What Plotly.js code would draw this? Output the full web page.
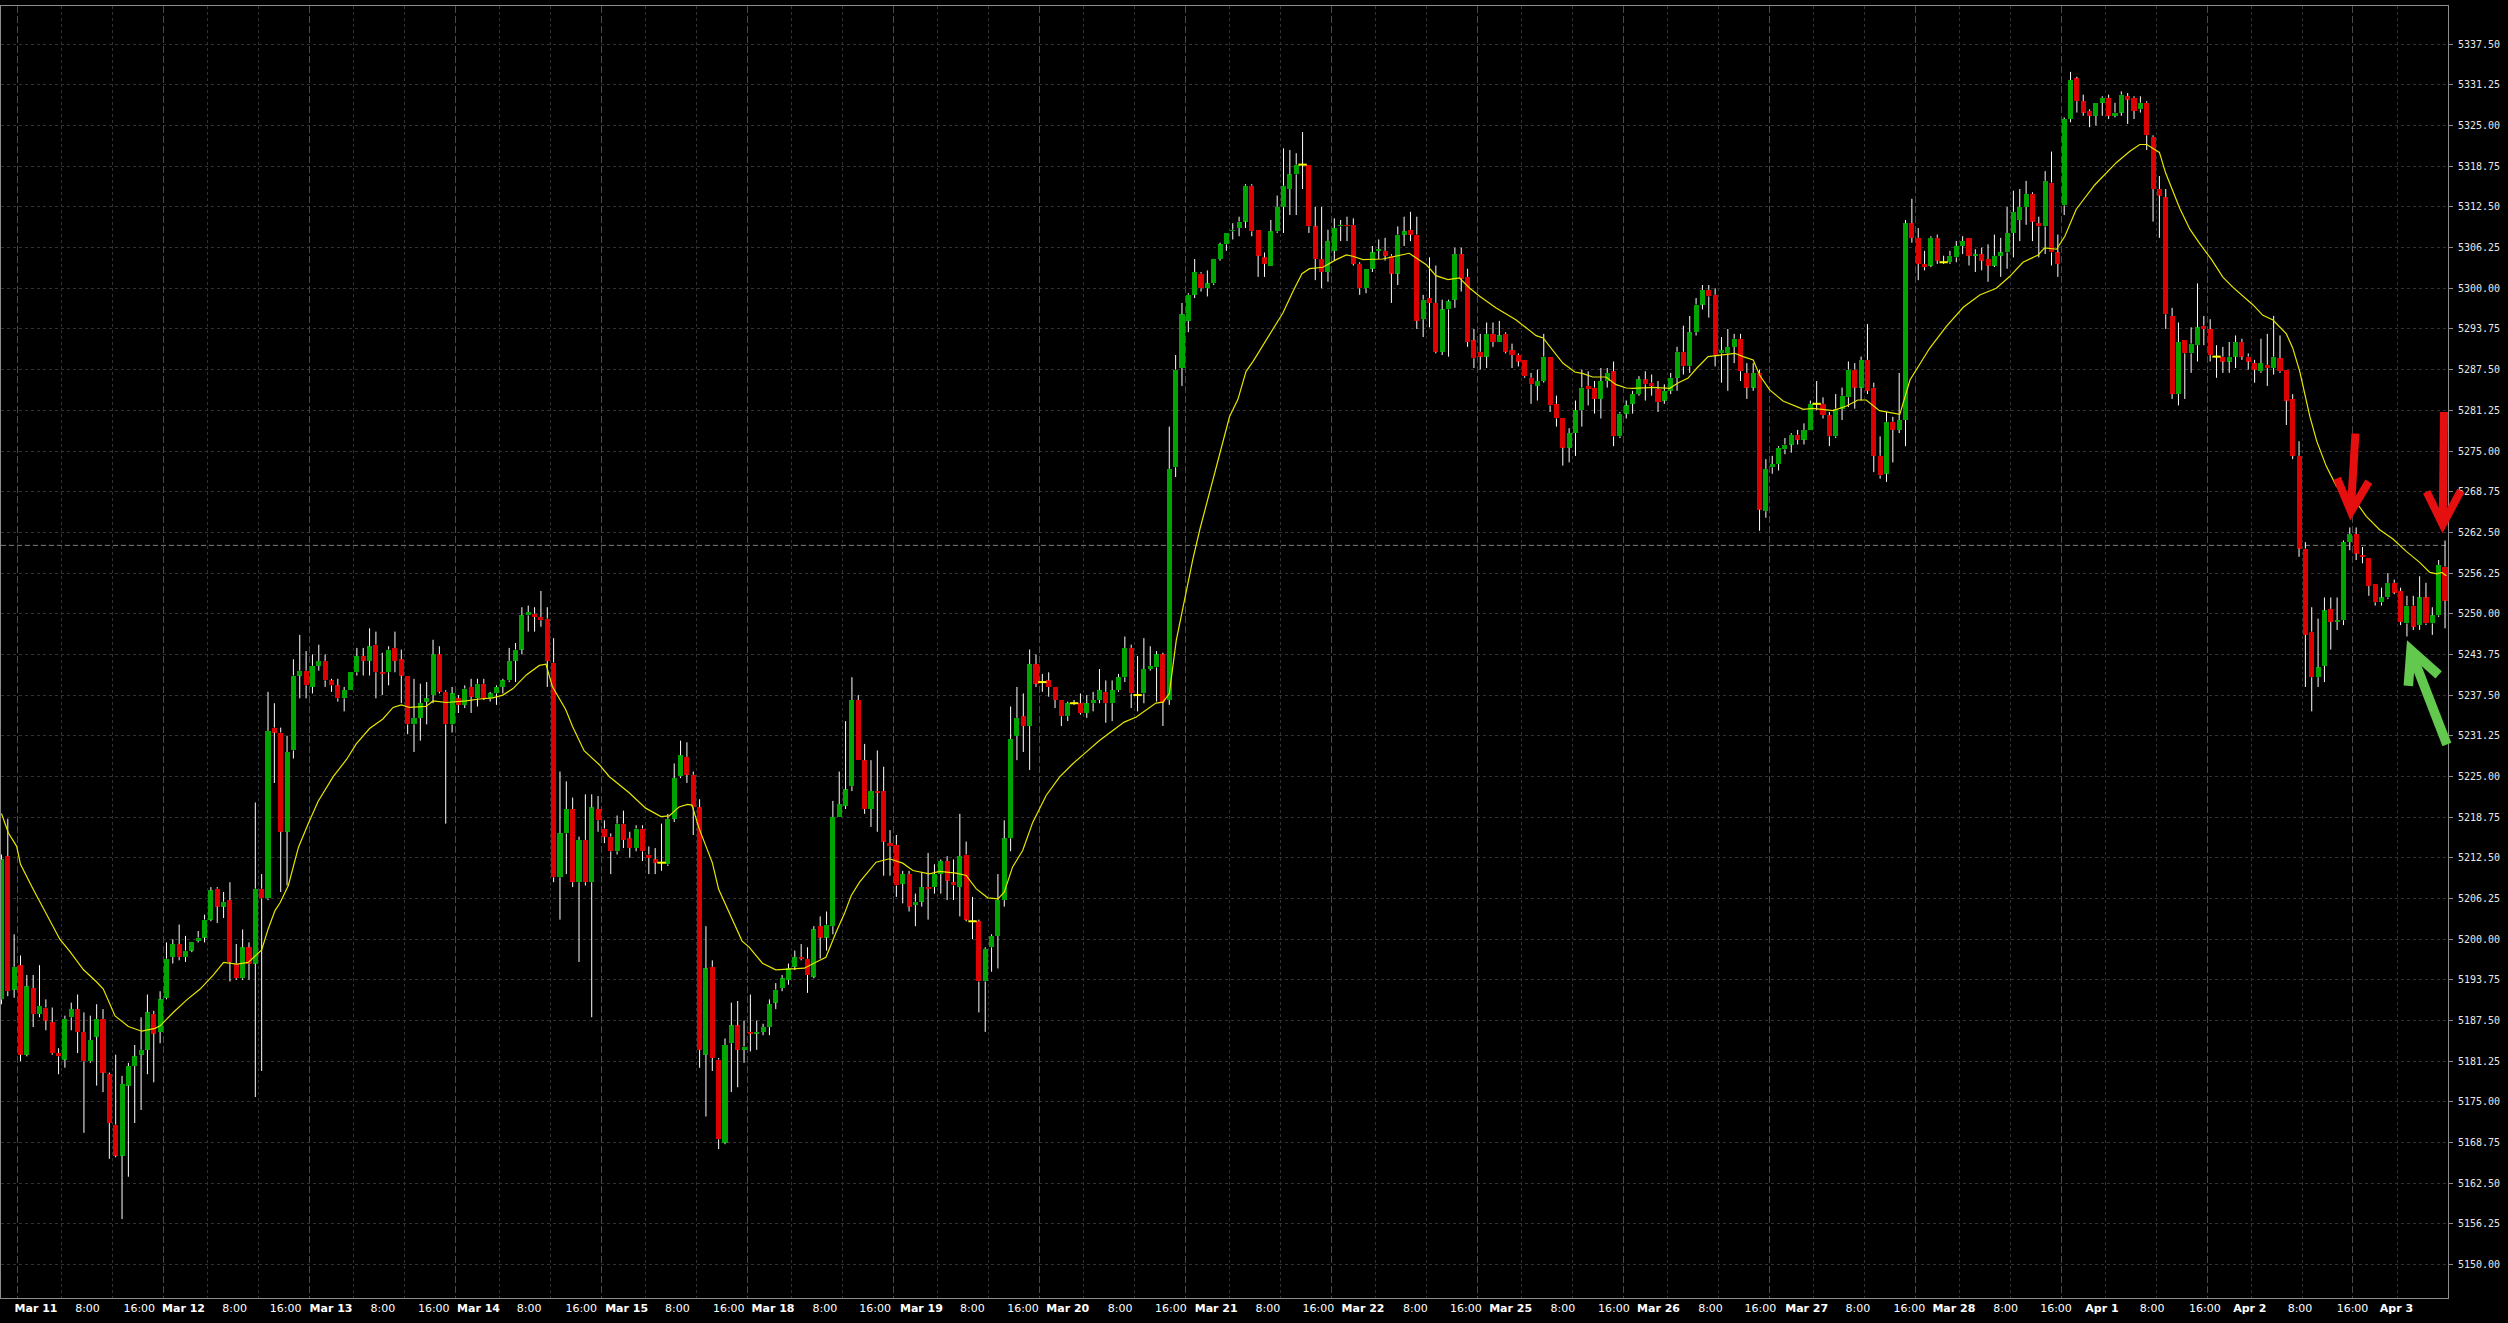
<!DOCTYPE html>
<html>
<head>
<meta charset="utf-8">
<script src="https://cdn.plot.ly/plotly-3.0.1.min.js"></script>
<style>
html,body{margin:0;padding:0;background:#000;overflow:hidden;}
#chart{width:2508px;height:1323px;}
</style>
</head>
<body>
<div id="chart"></div>
<script>
// ---- hourly OHLC bars (bar index 0..385) ----
const O = [
5190.75,5212.75,5192.25,5196,5182.25,5192.5,5188.5,5189.5,5187.25,5182.5,
5181.5,5188,5189.25,5185.75,5181.25,5185,5187.75,5179.25,5171.5,5166.75,
5177.5,5180.5,5182.25,5183,5188.5,5185.75,5191,5197.25,5199.25,5197.25,
5198.25,5199.75,5200.25,5203,5207.75,5205,5206,5196.25,5194,5198.75,
5196.25,5207.75,5206.25,5232.5,5231.75,5216.5,5229,5240.5,5241.25,5238.75,
5242,5242.75,5239.75,5239,5237,5238.25,5241,5243.5,5242.75,5245.25,
5241,5241,5244.75,5243,5240.5,5233,5234,5236.5,5237.5,5243.75,
5238,5233,5237,5236,5238.75,5237,5239.25,5237,5237.75,5238.75,
5239.75,5242.75,5244.5,5249.75,5250,5249.5,5249.25,5242.5,5209.5,5216.25,
5220,5208.75,5215.25,5208.75,5220,5217,5215.75,5213.5,5217.75,5215.5,
5214,5217,5213,5212.25,5211.75,5211.5,5218.5,5225,5228,5225.25,
5220.25,5182.25,5195.75,5181.5,5168.75,5184,5186.75,5183,5185.75,5185.5,
5185.75,5186.5,5190.25,5192.5,5193.75,5195.75,5197.25,5197,5194.25,5202,
5200.25,5202,5218.75,5220.5,5223.5,5236.75,5227.5,5220,5222.75,5222.75,
5214.75,5214.5,5208.5,5210,5205.25,5205.75,5208,5208,5210,5212,
5208.75,5208,5213,5202.75,5202.75,5193.5,5198.75,5200.5,5206,5215.5,
5231.25,5234.25,5232.75,5242.25,5239.5,5239.75,5238.75,5236.75,5234.25,5236.25,
5236.25,5234.75,5236.25,5236.75,5238,5236.25,5238.25,5240.25,5244.75,5237.5,
5237.75,5241.5,5241.75,5243.75,5236.75,5272.5,5287.75,5295,5299,5302.25,
5300,5300.75,5304.5,5306.75,5308.75,5309.25,5310.25,5315.75,5309,5304.75,
5303.5,5308.75,5312.5,5315.25,5317.5,5319,5319,5309.5,5304.5,5302.5,
5305.75,5309.5,5309.75,5309.75,5303.75,5300,5303,5305.75,5305.75,5305,
5302.25,5308.25,5309,5308.25,5295.25,5298.5,5297.75,5290.25,5296.75,5298.25,
5305.25,5301.75,5292,5290.25,5289.5,5293,5291.75,5293,5290.5,5289.75,
5289,5286.25,5285,5285.75,5289.5,5282.25,5280,5275.5,5277.75,5281.25,
5285,5284.75,5283,5285.75,5287.25,5277.25,5280.75,5282.25,5283.75,5286,
5285.5,5284.5,5282.75,5284.25,5286.25,5290.25,5288,5293.25,5297.5,5299.75,
5299,5290,5290,5291,5292.25,5287,5284.75,5287,5265.75,5272.5,
5273,5275.25,5276,5277.5,5276.75,5278.25,5282.25,5282.25,5280.5,5277.25,
5281.5,5283.25,5287.5,5284.75,5289,5284.75,5274.25,5271.5,5279.5,5278.25,
5279.75,5310,5307.75,5303.75,5303.5,5307.75,5304,5304,5304.75,5306.5,
5307.75,5305,5305.25,5304.5,5303.5,5305,5305.5,5308.5,5310.5,5312.5,
5314.5,5310,5309.5,5316.25,5305.5,5312.75,5326,5332.25,5328.75,5327.25,
5326.5,5328.5,5329.25,5326.5,5327,5329.5,5329.25,5327.5,5328.5,5323.25,
5315.25,5314,5295.75,5283.75,5292,5290,5291.25,5294.25,5293.75,5289.5,
5289.5,5288.75,5289.5,5291.75,5289.5,5288.5,5287.25,5288.25,5287.75,5289.25,
5287.5,5283,5274.25,5260,5247.25,5240.25,5242,5250.75,5248.75,5249,
5261,5262.25,5259,5258.5,5254.5,5251.75,5252.5,5254.75,5253.5,5248.5,
5251.25,5248.25,5252.5,5248.5,5249.75,5257.25
];
const H = [
5213,5218.5,5200.75,5197.5,5194.5,5194.5,5196,5190.75,5189.5,5183.25,
5188.25,5190.25,5191.5,5188.75,5188.25,5190,5189.25,5179.5,5182.25,5179,
5181,5183.75,5188,5191.5,5189,5192,5199.5,5200,5202.25,5200.5,
5199.5,5201.25,5203.75,5208,5208,5207.25,5208.75,5199.25,5201.5,5199.5,
5221,5210,5238,5236.25,5232.5,5231.25,5243,5246.75,5244.25,5243.75,
5245.25,5243.75,5240,5240,5238.75,5241,5244.75,5244.75,5247.75,5247.25,
5244,5245,5247.25,5244.5,5240.5,5240,5239.25,5239.5,5246,5245,
5238.25,5238.75,5237.5,5239,5240,5240,5240,5238,5239,5240,
5244.75,5245.5,5251,5251.25,5251,5253.5,5251,5246.25,5225.75,5224.25,
5221.75,5215.75,5222.25,5222.25,5222,5218.25,5216.25,5219,5219.75,5216.5,
5217.5,5217.5,5214.25,5214,5217.75,5219.25,5227,5230.5,5230.25,5225.75,
5221.5,5202,5196.75,5181.75,5184.75,5190.25,5190.5,5187.5,5191.5,5187.5,
5187,5190.75,5193.25,5194.5,5196.25,5198.25,5199.25,5198.75,5202,5203.5,
5204.25,5221.25,5225.75,5233.5,5240.25,5237.5,5230,5227.5,5229,5226.5,
5216.75,5216,5210.5,5210.5,5207,5210.25,5213.25,5211.5,5212.25,5212.75,
5212.25,5219.25,5215,5206.5,5203,5198.75,5200.75,5210,5218.25,5235.75,
5238.75,5237.75,5244.5,5243.75,5240.75,5241,5238.75,5236.75,5236.5,5236.75,
5237.75,5237.5,5238,5241.5,5239.75,5239.75,5240.75,5246.5,5245.25,5243.5,
5246.25,5245,5244.25,5244,5278.75,5289.75,5297.75,5299.25,5304.5,5302.5,
5302.75,5304.5,5307,5308.5,5310,5311,5316,5316,5309,5305.5,
5310.5,5314.25,5321.5,5321.25,5320.75,5324,5319,5312.5,5312.5,5309,
5310.75,5310.5,5311,5310.75,5304,5303,5306.5,5307.5,5307.75,5305.25,
5309.5,5311,5311.75,5311,5299,5304.75,5303.5,5298.25,5298.25,5306.25,
5306.25,5303,5293.75,5293,5294.75,5294.75,5295,5293.25,5291.5,5290,
5289,5287,5287.5,5293,5289.5,5283.5,5280,5278.5,5282.75,5287.5,
5287.25,5285.75,5287.75,5287.75,5288.75,5281,5282.75,5284.25,5286.5,5287.25,
5286.75,5285.75,5285.25,5287,5291,5294.25,5295.75,5298.5,5300.5,5300.5,
5300,5292.5,5293.75,5293,5293,5288.5,5288.5,5287.5,5273.75,5274.25,
5275.75,5277,5277.75,5278.25,5279.25,5282.75,5285.75,5283.25,5281,5283.75,
5284.75,5288.75,5288.5,5289.5,5294.5,5285.5,5277.25,5281,5280.25,5287,
5310.5,5313.75,5309.25,5305.75,5308,5308.25,5305,5305.75,5307.25,5308,
5307.75,5306,5306.25,5306.75,5308.25,5307.75,5312.5,5315,5315.25,5316.5,
5314.75,5311,5318,5321,5308.25,5326.25,5333.25,5332.5,5329.75,5327.5,
5328.5,5329.5,5329.75,5328.5,5330.25,5330,5329.5,5329.5,5328.75,5323.5,
5317.25,5315.25,5297,5294.75,5292,5294,5300.75,5295.75,5295.25,5291.25,
5291,5291.75,5292.75,5292.25,5290,5289,5292.25,5293,5295.75,5292.75,
5287.5,5283.75,5276.5,5261,5251,5249.25,5252.5,5252.5,5252.5,5261.25,
5263.25,5263.25,5260.25,5258.5,5254.5,5254,5256.25,5255.25,5254,5252.75,
5252.75,5255.75,5254.75,5251,5258.25,5261.25
];
const L = [
5190,5191.25,5191,5181.25,5182,5186.5,5188,5186,5182.25,5179.25,
5180.25,5186,5182.5,5170.25,5181,5177.5,5176.5,5166.25,5166.5,5157,
5163.5,5171.75,5173.75,5179.25,5178,5184,5190.75,5196.25,5196.75,5196.5,
5198,5199.5,5199.5,5202.75,5202.5,5203.25,5193.5,5193.75,5193.75,5193.75,
5175.75,5179.75,5206,5224,5207.25,5208.25,5227.75,5237,5237,5237.75,
5241.25,5238.75,5238,5236.5,5235,5238.25,5240.5,5240.5,5240.5,5237,
5237.5,5239,5241,5236.25,5231.5,5228.75,5230.5,5233,5236.25,5237.75,
5217.75,5231.75,5234.75,5235.5,5234.75,5235.75,5236.75,5236.5,5236,5237.75,
5239.5,5239.5,5243.75,5247.25,5247.25,5248,5238.75,5208.75,5203,5210,
5208,5196.5,5208.25,5188,5216.5,5214.75,5210,5213,5214,5212.5,
5213.5,5212,5210,5210,5210.5,5211.25,5218,5224.75,5224,5216,
5180.25,5172.75,5179.75,5167.75,5168.5,5176.5,5177.25,5181,5182.75,5183,
5185.25,5185.25,5189.25,5192,5193,5195.25,5196.75,5191.75,5194,5197,
5198.25,5200.75,5218.75,5220,5222.75,5227.5,5219.25,5217.25,5216.5,5209.75,
5209.75,5206.5,5205.5,5204.25,5202,5205,5203,5207,5207,5206,
5206,5203.5,5202.75,5200,5188.75,5185.75,5195,5195.5,5205,5213.5,
5227.5,5228.75,5226,5238.75,5238,5237.25,5235.5,5232.75,5233.5,5236,
5234.5,5234,5235,5236.25,5233.25,5233.5,5238,5239.5,5235.5,5235,
5236.25,5241.25,5236.5,5232.75,5236,5271,5285,5293.25,5298.5,5299.5,
5298.75,5300.5,5304.25,5305.75,5307.5,5308,5309.25,5308,5301.75,5301.75,
5303.5,5308.5,5308.5,5311.25,5311.25,5315.25,5308.5,5301.25,5300,5301,
5304.25,5307.25,5307.25,5303.5,5299,5299.25,5302.5,5304.5,5304.25,5297.75,
5300.5,5306.5,5307.25,5293.75,5292.5,5294,5290,5289.75,5289.5,5297,
5299.5,5291,5287.75,5287.5,5287.75,5291,5291.75,5290,5287.75,5288,
5286.25,5282.25,5282.75,5285.5,5281,5278.75,5272.75,5273.25,5274.25,5278.75,
5282,5280.75,5280,5284.75,5275.75,5277,5280,5280.75,5283.5,5282.75,
5283.5,5281,5282.25,5283.75,5284.25,5286.75,5287,5292.75,5296.75,5295.5,
5288,5285.5,5284.25,5288.5,5285.75,5283,5284.25,5262.75,5264.75,5271.5,
5272,5274.5,5274.75,5276,5276,5278.25,5281.25,5280,5275.75,5277,
5279.75,5281.75,5281.5,5282.75,5283.75,5271.75,5270.75,5270.25,5273.25,5277.75,
5275.75,5307,5301.25,5302.75,5303.25,5303.75,5303.75,5303.75,5304,5305.25,
5303.5,5302.5,5302.75,5301,5303.25,5301.75,5303,5304.75,5307.25,5309.75,
5307.25,5304.75,5305.25,5303.5,5301.75,5311.25,5325.5,5327,5326.5,5324.75,
5325,5326.5,5326,5326.25,5326.5,5325.25,5326,5327,5321.25,5310.25,
5307.75,5293.75,5283,5282,5283,5287,5288.75,5291.25,5288.75,5286.25,
5287,5287,5287.75,5289,5287.5,5285.5,5287,5285,5286.75,5287,
5279,5273.75,5258.75,5238.75,5235,5238.75,5239.5,5244.5,5247.5,5248.25,
5259.75,5258.25,5257.75,5252.75,5251.25,5251.25,5252.25,5253,5248.25,5246.5,
5247.5,5247.5,5248.25,5246.75,5249.5,5247.75
];
const C = [
5212.25,5192,5195.75,5182.25,5192.75,5188.5,5189.75,5187.5,5182.5,5182,
5187.75,5189.25,5185.75,5181.25,5184.5,5187.75,5179.5,5171.75,5166.75,5177.75,
5180.5,5182,5183,5188.75,5185.5,5190.75,5197,5199.25,5197.25,5198.25,
5199.5,5200.25,5203,5207.5,5205,5205.75,5196.5,5194,5198.75,5196.25,
5207.75,5206.25,5232,5231.75,5216.5,5228.75,5240.5,5241.25,5239,5242,
5242.75,5239.75,5239,5237,5238.25,5241,5243.5,5242.75,5245,5241,
5240.75,5244.5,5242.75,5240.5,5233,5234,5236.25,5237,5243.75,5238,
5233,5237.75,5236,5238.5,5237.25,5239.25,5237,5237.75,5238.75,5239.75,
5242.75,5244.5,5249.75,5250.25,5249.5,5249,5242.75,5209.5,5216.25,5220,
5208.75,5215.25,5208.75,5220.25,5218.25,5215.75,5213.5,5217.75,5215.25,5214,
5217,5213.5,5212.5,5211.75,5211.75,5218.5,5224.75,5228.25,5225.25,5220.25,
5183,5195.5,5181.75,5169.25,5183.75,5186.75,5183,5183.5,5185.5,5185.75,
5186.5,5190,5192.25,5194,5195.5,5197.25,5197,5194.5,5201.5,5200.25,
5202.25,5218.75,5220.75,5223,5236.75,5227.5,5220,5222.75,5222.5,5215,
5214.25,5208.25,5210,5205,5205.75,5208,5207.75,5210,5212,5209,
5208.25,5212.75,5203,5202.75,5193.5,5198.5,5200.5,5206,5215.5,5230.75,
5234,5232.75,5242.25,5239.25,5239.5,5238.75,5236.75,5234.25,5236.25,5236.25,
5234.75,5236.25,5236.75,5238.25,5236.25,5238.25,5240.25,5244.75,5237.75,5237.5,
5241.5,5242,5243.75,5236.5,5272.25,5287.5,5296,5299,5302.5,5300,
5300.75,5304.5,5306.75,5308.5,5309,5310.25,5315.75,5308.75,5305,5303.75,
5308.75,5312.5,5315.75,5317.5,5319,5319,5309.5,5304.5,5302.5,5307.25,
5309.25,5309.75,5309.5,5303.75,5300,5303,5305.5,5306,5305,5302.25,
5308.25,5308.75,5308.25,5295,5298.25,5297.75,5290.25,5296.75,5298,5305.25,
5301.5,5291.75,5289.25,5289.5,5293,5291.75,5292.75,5290.25,5289.75,5288.75,
5286.5,5285.25,5285.75,5289.5,5282,5280,5275.5,5277.75,5281.25,5284.75,
5284.5,5283,5285.75,5287,5277.25,5280.75,5282,5283.75,5286,5285.25,
5285,5282.5,5284.25,5286.25,5290.25,5288,5293.25,5297.5,5299.75,5298.75,
5289.75,5290.5,5291,5292.25,5287.25,5284.75,5287,5266,5272.25,5273,
5275.5,5276,5277.5,5276.75,5278.25,5282.25,5282.25,5280.5,5277.25,5281.5,
5283.5,5287.5,5284.75,5289,5284.25,5274.25,5271.25,5279.5,5278.25,5279.75,
5310,5307.75,5303.75,5303.25,5307.75,5304.25,5304,5305,5306.5,5307.25,
5305,5305.25,5304.25,5303.5,5305,5305.5,5308.5,5311.75,5312.5,5314.5,
5310.25,5309.5,5316.5,5305.5,5303.75,5326,5332,5328.75,5327,5326.5,
5328.5,5329.25,5326.5,5327,5329.75,5329,5327.25,5328.5,5323.5,5315.25,
5314.25,5296,5283.75,5291.75,5290,5291.5,5294,5293.75,5289.75,5289.5,
5288.75,5289.5,5291.75,5289.5,5288.75,5287.5,5288.5,5287.75,5289.5,5287.25,
5282.75,5274.25,5260,5246.75,5240.25,5241.75,5250.5,5248.75,5249,5261,
5262.25,5259.25,5258.75,5254.25,5251.75,5252.5,5254.75,5253.25,5248.75,5251.25,
5248,5252.5,5248.5,5249.75,5257.5,5252
];

// ---- moving average (at these bar positions) ----
const maIdx = [0,1.08,2.4,3,5,7.1,9.2,10.8,12.9,15,16.05,17.9,20,22.1,24.2,25,27.1,29.2,31.3,33.4,35,37.1,38.9,41,42.05,43.1,
43.9,45.2,46.8,48.3,49.9,52.3,54.4,55.9,58,60.1,61.7,63,64.3,66.9,68,70.1,73.2,75.3,77.4,79,80.6,82.7,84.75,85.8,86.8,88.9,90,91.8,94.2,95.75,98.9,101.5,103.9,105.2,106.75,108.1,108.8,109.9,112,113,114.6,116.7,
117.8,119.9,122,124.1,126.5,128.3,129.9,131.5,132.8,133.9,135.2,137.8,139.9,142,143.6,146.2,147.8,150.4,152,153.6,155.4,157,158,159.3,160.9,162.5,164.6,166.7,168.8,170.9,173,175.1,176.9,178.8,180.3,181.9,183,184,185.1,
187.7,188.8,190.9,193.5,194.8,196.1,197.2,198.7,200.3,201.9,203.5,204.9,206.1,208.2,210.3,211.9,212.9,214.5,217.6,219.7,221.8,222.9,224.5,226,227.9,229.7,231.3,232.9,235.5,238.6,241.8,242.9,244.4,246,247.9,249.2,250.7,252.8,254.4,256,
257.1,260.2,262.85,264.2,265.7,267.1,268.9,270.7,273.1,274.4,276,277,278.6,280.7,283.9,285.4,288.6,290.7,292.5,293.8,295.9,299.1,300.7,303.8,306.4,309.1,311.7,314.3,316.4,318.5,320.9,321.9,323.8,
325.1,326.9,329.8,333.2,335.3,336.9,338,340,341,342,343.2,344.8,346.3,348.2,350,351.6,353.2,354.8,356.3,357.9,360,361,362.1,
363.7,364.8,366.3,367.9,369.5,371.1,372.6,374.7,376.8,378.9,381,382.6,383.7,384.5,385.2];
const maVal = [5219.3,5216.34,5214.26,5211.5,5207.68,5203.84,5200,5198.08,5195.34,5193.42,5192.33,5188.2,5186.57,5185.86,5186.3,5186.68,5188.77,5190.68,5192.33,5194.52,5196.44,5196.17,5196.44,5198.36,5201.65,5204.39,
5205.6,5208.25,5214.13,5217.66,5221.2,5225,5227.65,5230,5232.36,5233.83,5235.6,5236,5235.6,5235.77,5236.6,5236.36,5236.6,5236.9,5237.06,5237.5,5238.5,5240.6,5242.06,5242.24,5238.83,5235.3,5232.65,5228.95,5226.8,5225,5222.5,5220.13,5218.84,5218.95,5220.3,5220.7,5220.6,5217.06,5211.77,5207.66,5204.1,5199.7,
5198.77,5196.31,5195.29,5195.44,5195.54,5196.46,5197.23,5201.07,5203.89,5206.71,5208.76,5211.83,5212.35,5211.68,5210.55,5210.04,5210.4,5210.14,5209.78,5207.73,5206.35,5206.2,5207.22,5211.06,5213.63,5217.98,5222.08,5224.9,5226.95,5228.74,5230.53,5232.07,5233.35,5234.12,5235.14,5236.27,5236.42,5237.7,5245.9,
5258.3,5262.9,5270.6,5280.3,5282.9,5287.24,5288.78,5291.08,5293.65,5296.2,5299.54,5302.25,5303.02,5303.23,5304.4,5305.12,5304.92,5304.4,5304.5,5304.92,5305.38,5304.66,5303.63,5301.94,5301.33,5301.59,5300.05,5298.77,5296.98,5295.18,5292.72,5292.37,5290.57,5288.52,5287.14,5286.88,5286.37,5286.37,5285.19,5284.68,
5284.63,5284.79,5284.63,5285.5,5286.17,5287.71,5289.5,5289.76,5290.01,5289.5,5288.99,5286.68,5284.38,5282.69,5281.4,5281.56,5281.2,5281.92,5282.84,5282.84,5281.2,5280.64,5285.91,5290.78,5294.11,5297.08,5298.98,5300,5301.8,5304,5305.12,5306.2,5306,
5308,5312.15,5315.87,5319.3,5321.02,5322.09,5322.09,5320.88,5317.66,5315.16,5312.3,5309.08,5306.93,5304.43,5301.71,5300.14,5298.71,5297.4,5295.85,5295.13,5292.99,5290.84,5287.27,
5280.32,5276.48,5272.64,5269.57,5268.29,5267,5264.96,5262.91,5261.47,5259.58,5257.89,5256.35,5256.14,5256.35,5255.84];

// ---- time axis: session days and label text / positions (in bar units) ----
const days = ['Mar 11','Mar 12','Mar 13','Mar 14','Mar 15','Mar 18','Mar 19','Mar 20','Mar 21','Mar 22','Mar 25','Mar 26','Mar 27','Mar 28','Apr 1','Apr 2','Apr 3'];
const axisLabelText = ['Mar 11','8:00','16:00','Mar 12','8:00','16:00','Mar 13','8:00','16:00','Mar 14','8:00','16:00','Mar 15','8:00','16:00','Mar 18','8:00','16:00','Mar 19','8:00','16:00','Mar 20','8:00','16:00','Mar 21','8:00','16:00','Mar 22','8:00','16:00','Mar 25','8:00','16:00','Mar 26','8:00','16:00','Mar 27','8:00','16:00','Mar 28','8:00','16:00','Apr 1','8:00','16:00','Apr 2','8:00','16:00','Apr 3'];
const axisLabelPos = [5.45,13.56,21.71,28.69,36.75,44.77,51.93,60.09,68.11,75.16,83.14,91.35,98.5,106.49,114.59,121.56,129.72,137.65,144.95,152.99,160.95,168.0,176.24,184.24,191.39,199.54,207.48,214.52,222.76,230.72,237.78,246.0,254.04,261.08,269.27,277.14,284.43,292.48,300.59,307.62,315.77,323.71,330.95,338.86,347.15,354.24,362.15,370.42,377.34];
const bidLine = 5260.5;

// ---- layout constants ----
const xr = [-0.07, 385.47];
const yr = [5144.87, 5343.37];
const BARS_PER_DAY = 23, FIRST_DAY = 2.5;

const N = O.length;

// wicks (drawn outside the body only)
const wx = [], wy = [];
for (let i = 0; i < N; i++) {
  const top = Math.max(O[i], C[i]), bot = Math.min(O[i], C[i]);
  if (H[i] > top) { wx.push(i, i, null); wy.push(H[i], top, null); }
  if (L[i] < bot) { wx.push(i, i, null); wy.push(bot, L[i], null); }
}
// bodies
const bx = [], by = [], bb = [], bc = [];
const dx = [], dy = [];
for (let i = 0; i < N; i++) {
  if (C[i] === O[i]) { dx.push(i); dy.push(O[i]); continue; }
  bx.push(i); bb.push(O[i]); by.push(C[i] - O[i]);
  bc.push(C[i] > O[i] ? '#00a400' : '#dc0000');
}

// grid positions
const dateGrid = [], timeGrid = [];
days.forEach((d, k) => {
  const p = FIRST_DAY + BARS_PER_DAY * k;
  dateGrid.push(p);
  if (p + 7 < xr[1]) timeGrid.push(p + 7);
  if (p + 15 < xr[1]) timeGrid.push(p + 15);
});
const tickText = axisLabelText.map(t => t.indexOf(':') >= 0 ? t : '<b>' + t + '</b>');

const traces = [
  {type:'scatter', mode:'lines', x:wx, y:wy, line:{color:'#ffffff', width:1}, hoverinfo:'skip', xaxis:'x', yaxis:'y'},
  {type:'bar', x:bx, y:by, base:bb, width:0.8, marker:{color:bc, line:{width:0}}, hoverinfo:'skip', xaxis:'x', yaxis:'y'},
  {type:'scatter', mode:'markers', x:dx, y:dy, marker:{symbol:'line-ew', size:6, line:{color:'#ffff00', width:2}}, hoverinfo:'skip', xaxis:'x', yaxis:'y'},
  {type:'scatter', mode:'lines', x:maIdx, y:maVal, line:{color:'#e6e600', width:1.2}, hoverinfo:'skip', xaxis:'x', yaxis:'y'},
  {type:'scatter', mode:'markers', x:[null], y:[null], xaxis:'x2', yaxis:'y', hoverinfo:'skip'},
  {type:'scatter', mode:'markers', x:[null], y:[null], xaxis:'x3', yaxis:'y', hoverinfo:'skip'}
];

// arrows drawn on the picture (bar index, price)
const arrows = [
  {color:'#e60f0f', width:8, shaft:[[370.89,5277.7],[370.2,5266.6]], head:[[368.0,5270.8],[370.18,5265.7],[373.0,5270.3]]},
  {color:'#e60f0f', width:8, shaft:[[384.84,5281.0],[384.65,5264.6]], head:[[382.1,5268.75],[384.63,5263.7],[387.5,5268.9]]},
  {color:'#62c84e', width:9.5, shaft:[[385.3,5229.9],[379.9,5243.5]], head:[[379.22,5238.9],[379.64,5244.4],[384.0,5240.6]]}
];
const px = v => (v - xr[0]) / (xr[1] - xr[0]);
const py = v => (v - yr[0]) / (yr[1] - yr[0]);
const shapes = [
  {type:'line', xref:'paper', yref:'y', x0:0, x1:1, y0:bidLine, y1:bidLine, line:{color:'#7c7c7c', width:1, dash:'5px,3px'}, layer:'below'}
];
arrows.forEach(a => {
  shapes.push({type:'path', xref:'paper', yref:'paper', layer:'above',
    path:'M' + px(a.shaft[0][0]) + ',' + py(a.shaft[0][1]) + ' L' + px(a.shaft[1][0]) + ',' + py(a.shaft[1][1]),
    line:{color:a.color, width:a.width}});
  shapes.push({type:'path', xref:'paper', yref:'paper', layer:'above',
    path:'M' + px(a.head[0][0]) + ',' + py(a.head[0][1]) + ' L' + px(a.head[1][0]) + ',' + py(a.head[1][1]) + ' L' + px(a.head[2][0]) + ',' + py(a.head[2][1]),
    line:{color:a.color, width:a.width}});
});

const layout = {
  width:2508, height:1323,
  margin:{l:1, r:60, t:6, b:25, pad:0},
  paper_bgcolor:'#000000', plot_bgcolor:'#000000',
  showlegend:false, bargap:0,
  xaxis:{type:'linear', range:xr, fixedrange:true, tickmode:'array', tickvals:timeGrid, showticklabels:false, ticks:'',
         showgrid:true, gridcolor:'#323232', griddash:'3px,3px', gridwidth:1, zeroline:false,
         showline:true, mirror:true, linecolor:'#8c8c8c', linewidth:1},
  xaxis3:{type:'linear', overlaying:'x', range:xr, fixedrange:true, tickmode:'array', tickvals:dateGrid, showticklabels:false, ticks:'',
         showgrid:true, gridcolor:'#4a4a4a', griddash:'7px,3px', gridwidth:1, zeroline:false, showline:false},
  xaxis2:{type:'linear', overlaying:'x', side:'bottom', range:xr, fixedrange:true, tickmode:'array', tickvals:axisLabelPos, ticktext:tickText,
         showgrid:false, zeroline:false, showline:false, ticks:'', ticklabelstandoff:2,
         tickfont:{family:'DejaVu Sans, sans-serif', size:11, color:'#ffffff'}},
  yaxis:{type:'linear', side:'right', range:yr, fixedrange:true, tick0:5150, dtick:6.25, tickformat:'.2f',
         showgrid:true, gridcolor:'#323232', griddash:'3px,3px', gridwidth:1, zeroline:false,
         ticks:'outside', ticklen:4, tickcolor:'#8c8c8c', ticklabelstandoff:3,
         tickfont:{family:'DejaVu Sans Mono, monospace', size:10, color:'#e8e8e8'},
         showline:true, mirror:true, linecolor:'#8c8c8c', linewidth:1},
  shapes:shapes
};

Plotly.newPlot('chart', traces, layout, {displayModeBar:false, staticPlot:true});
</script>
</body>
</html>
